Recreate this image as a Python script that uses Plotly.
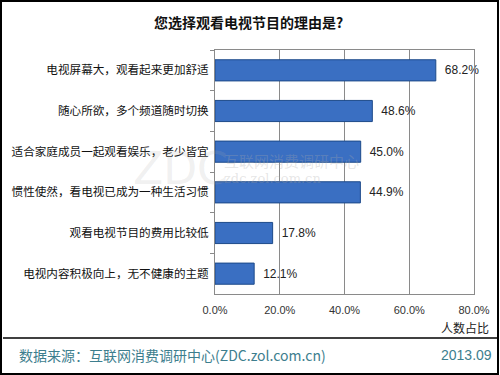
import plotly.graph_objects as go

categories = ["电视屏幕大，观看起来更加舒适", "随心所欲，多个频道随时切换", "适合家庭成员一起观看娱乐，老少皆宜",
              "惯性使然，看电视已成为一种生活习惯", "观看电视节目的费用比较低", "电视内容积极向上，无不健康的主题"]
values = [68.2, 48.6, 45.0, 44.9, 17.8, 12.1]
x_ticks = [0, 20, 40, 60, 80]
x_tick_labels = ["0.0%", "20.0%", "40.0%", "60.0%", "80.0%"]

L, R, T, B = 215, 474, 50, 294
W, H = R - L, B - T
def px(x): return (x - L) / W
def py(y): return (B - y) / H

CJK = "Noto Sans CJK SC"

fig = go.Figure(go.Bar(
    x=values, y=categories, orientation="h", width=0.52,
    marker=dict(color="#3a6fc2", line=dict(color="#1d4a8a", width=1)),
    text=[f"\u2002{v:.1f}%" for v in values], textposition="outside",
    textfont=dict(family="Liberation Sans", size=12, color="#222"),
    cliponaxis=False,
))

fig.update_layout(
    width=500, height=375,
    margin=dict(l=L, r=500 - R, t=T, b=375 - B, autoexpand=False),
    plot_bgcolor="white", paper_bgcolor="white",
    showlegend=False,
    xaxis=dict(range=[0, 80], tickvals=x_ticks, ticktext=x_tick_labels, automargin=False,
               showgrid=True, gridcolor="#8a8a8a", gridwidth=1,
               showline=True, linecolor="#8a8a8a", mirror=True, zeroline=False,
               tickfont=dict(family="Liberation Sans", size=11, color="#333"), ticks="",
               ticklabelstandoff=6),
    yaxis=dict(autorange="reversed", showline=True, linecolor="#8a8a8a", mirror=True, automargin=False,
               ticks="outside", ticklen=4, tickcolor="#8a8a8a", tickson="boundaries",
               tickfont=dict(family=CJK, size=11.6, color="#111"), ticklabelstandoff=3),
    font=dict(family=CJK),
)

def note(text, x, y, xanchor="center", **font):
    fig.add_annotation(text=text, xref="paper", yref="paper", x=px(x), y=py(y),
                       xanchor=xanchor, yanchor="middle", showarrow=False, font=font)

note("<b>您选择观看电视节目的理由是?</b>", 248, 22, family=CJK, size=14, color="#111")
note("人数占比", 491, 327, "right", family=CJK, size=12, color="#222")
note("数据来源：互联网消费调研中心(ZDC.zol.com.cn)", 17, 355, "left", family=CJK, size=14, color="#3d7e8e")
note("2013.09", 494, 355, "right", family="Liberation Sans", size=14, color="#3d7e8e")
# faint watermark
note("ZDC", 180, 168, family="DejaVu Sans", size=44, color="rgba(170,170,170,0.18)")
note("互联网消费调研中心", 222, 160, "left", family=CJK, size=15, color="rgba(170,170,170,0.3)")
note("zdc.zol.com.cn", 222, 178, "left", family="DejaVu Serif", size=13, color="rgba(170,170,170,0.3)")

fig.add_shape(type="rect", xref="paper", yref="paper", x0=px(1), x1=px(498), y0=py(374), y1=py(1),
              line=dict(color="black", width=2))
fig.add_shape(type="line", xref="paper", yref="paper", x0=px(3), x1=px(497), y0=py(338), y1=py(338),
              line=dict(color="black", width=1.5))

fig.write_html("out.html", config={"displayModeBar": False},
               post_script="document.body.style.margin='0';document.body.style.overflow='hidden';")
